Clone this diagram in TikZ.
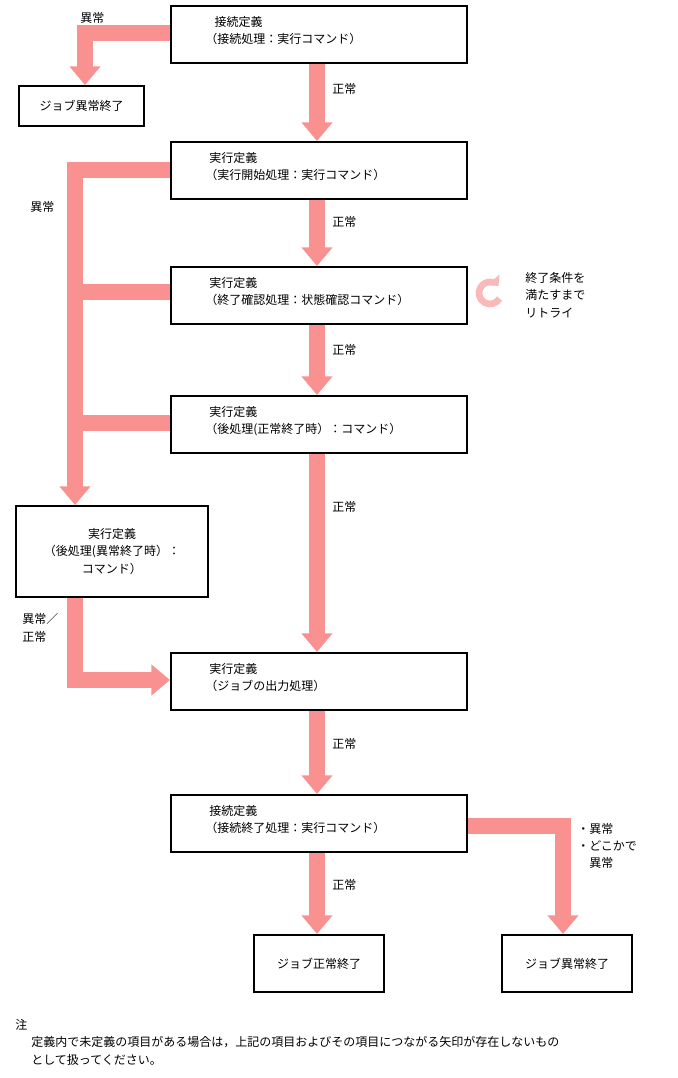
\documentclass[tikz,border=0pt]{standalone}
\usepackage{fontspec}
\setmainfont{Noto Sans CJK JP}
\usetikzlibrary{arrows.meta}
\definecolor{pk}{RGB}{250,145,145}
\definecolor{lpk}{RGB}{250,185,185}
\begin{document}
\begin{tikzpicture}[x=0.75pt,y=-0.75pt,
  every node/.style={font=\fontsize{9}{13}\selectfont},
  box/.style={draw,line width=1.5pt,minimum width=222pt,minimum height=42.75pt,anchor=north west,inner sep=0},
  txt/.style={anchor=north west,align=left,inner sep=0},
  fl/.style={draw=pk,line width=12pt,line join=miter},
  ar/.style={fl,-{Triangle[width=22.5pt,length=14pt]}},
  lb/.style={anchor=west,align=left,inner sep=0}]
\useasboundingbox (0,0) rectangle (678,1078);
% boxes
\node[box] (b1) at (170,5) {};
\node[txt] at (205,16) {\hspace*{7pt}接続定義\\（接続処理：実行コマンド）};
\node[box,minimum width=93.75pt,minimum height=30pt] (e0) at (18,85) {ジョブ異常終了};
\node[box] (b2) at (170,141) {};
\node[txt] at (205,152) {\hspace*{3pt}実行定義\\（実行開始処理：実行コマンド）};
\node[box] (b3) at (170,266) {};
\node[txt] at (205,277) {\hspace*{3pt}実行定義\\（終了確認処理：状態確認コマンド）};
\node[box] (b4) at (170,395) {};
\node[txt] at (205,406) {\hspace*{3pt}実行定義\\（後処理(正常終了時）：コマンド）};
\node[box,minimum width=144pt,minimum height=68.25pt,align=center] (b5) at (15,505) {実行定義\\（後処理(異常終了時）：\\コマンド）};
\node[box] (b6) at (170,652) {};
\node[txt] at (205,663) {\hspace*{3pt}実行定義\\（ジョブの出力処理）};
\node[box] (b7) at (170,794) {};
\node[txt] at (205,805) {\hspace*{3pt}接続定義\\（接続終了処理：実行コマンド）};
\node[box,minimum width=97.5pt] (e1) at (253,934) {ジョブ正常終了};
\node[box,minimum width=97.5pt] (e2) at (501,934) {ジョブ異常終了};
% coordinates
\coordinate (c1) at (85,33);
\coordinate (c2) at (75,170);
\coordinate (c5) at (75,680);
\coordinate (c7) at (563,826);
% arrows
\draw[ar] (b1.west|-c1) -- (c1) -- (e0.north-|c1);
\draw[ar] (b1.south-|317,0) -- (b2.north-|317,0);
\draw[ar] (b2.south-|317,0) -- (b3.north-|317,0);
\draw[ar] (b3.south-|317,0) -- (b4.north-|317,0);
\draw[ar] (b4.south-|317,0) -- (b6.north-|317,0);
\draw[ar] (b6.south-|317,0) -- (b7.north-|317,0);
\draw[ar] (b7.south-|317,0) -- (e1.north-|317,0);
\draw[ar] (b2.west|-c2) -- (c2) -- (b5.north-|c2);
\draw[fl] (b3.west|-0,292) -- (75,292);
\draw[fl] (b4.west|-0,423) -- (75,423);
\draw[ar] (b5.south-|c5) -- (c5) -- (b6.west|-c5);
\draw[ar] (b7.east|-c7) -- (c7) -- (e2.north-|c7);
% retry icon
\coordinate (rc) at (490,293);
\draw[draw=lpk,line width=5pt,-{Triangle[width=12pt,length=6pt]}] ([shift={(30:11)}]rc) arc[start angle=30,end angle=320,radius=11];
% labels
\node[lb] at (525,295) {終了条件を\\満たすまで\\リトライ};
\node[lb] at (80,18) {異常};
\node[lb] at (332,89) {正常};
\node[lb] at (30,207) {異常};
\node[lb] at (332,222) {正常};
\node[lb] at (332,350) {正常};
\node[lb] at (332,507) {正常};
\node[lb] at (22,628) {異常／\\正常};
\node[lb] at (332,744) {正常};
\node[lb] at (332,885) {正常};
\node[lb] at (577,846) {・異常\\・どこかで\\\hspace*{9pt}異常};
\node[anchor=north west,align=left,inner sep=0] at (15,1019) {注\\\hspace*{12pt}定義内で未定義の項目がある場合は，上記の項目およびその項目につながる矢印が存在しないもの\\\hspace*{12pt}として扱ってください。};
\end{tikzpicture}
\end{document}
